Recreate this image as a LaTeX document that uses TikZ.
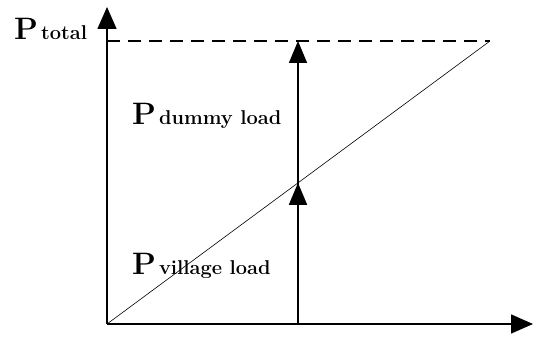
\documentclass[tikz,border=0pt]{standalone}
\usetikzlibrary{arrows.meta}
\begin{document}
\begin{tikzpicture}[x=1pt,y=1pt,
  axis/.style={line width=1.6pt,-{Triangle[length=22pt,width=19pt]}},
  arr/.style={line width=1.6pt,-{Triangle[length=22pt,width=18pt]}},
  lbl/.style={anchor=base west,inner sep=0pt,font=\bfseries}]
\useasboundingbox (0,0) rectangle (536,337);
\coordinate (O) at (107,13);
\coordinate (X) at (533,13);
\coordinate (Y) at (107,330);
\coordinate (T) at (490,296);
\coordinate (YT) at (107,296);
\coordinate (B) at (298,13);
\coordinate (VT) at (298,296);
\coordinate (M) at (298,154.2);
\draw[axis] (O) -- (X);
\draw[axis] (O) -- (Y);
\draw[line width=1.6pt,dash pattern=on 13pt off 8pt] (YT) -- (T);
\draw[line width=0.6pt] (O) -- (T);
\draw[arr] (B) -- (VT);
\draw[arr] (B) -- (M);
\node[lbl] (pt) at (14,297) {\fontsize{31}{33}\selectfont P\kern3pt\fontsize{20}{22}\selectfont total};
\node[lbl] (pd) at (132,212) {\fontsize{31}{33}\selectfont P\kern3pt\fontsize{20}{22}\selectfont dummy load};
\node[lbl] (pv) at (132,62) {\fontsize{31}{33}\selectfont P\kern3pt\fontsize{20}{22}\selectfont village load};
\end{tikzpicture}
\end{document}
